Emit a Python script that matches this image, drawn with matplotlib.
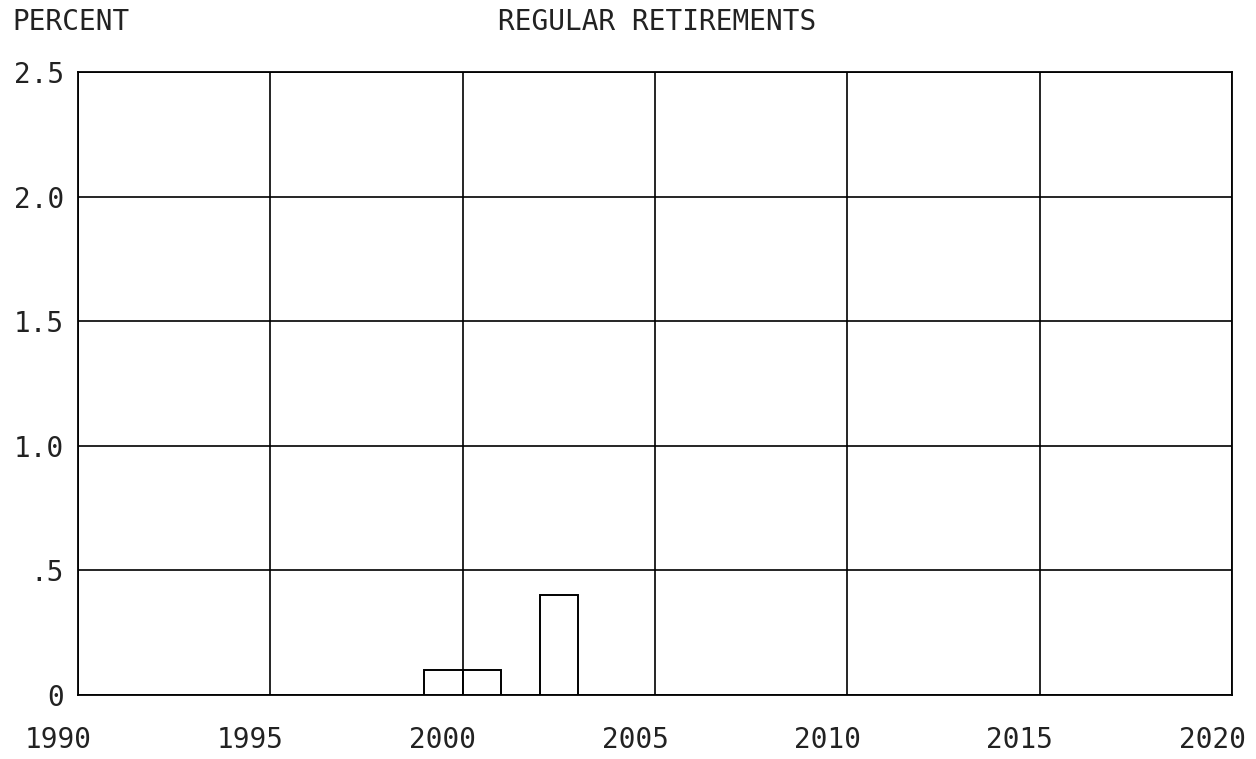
import matplotlib.pyplot as plt
import matplotlib.transforms as mtransforms

# data
years = [1999, 2000, 2002]
percent = [0.1, 0.1, 0.4]

xticks = [1990, 1995, 2000, 2005, 2010, 2015, 2020]
yticks = [0, 0.5, 1.0, 1.5, 2.0, 2.5]
ylabels = ["0", ".5", "1.0", "1.5", "2.0", "2.5"]

plt.rcParams['font.family'] = ['DejaVu Sans Mono']

fig = plt.figure(figsize=(12.56, 7.59), dpi=100)
ax = fig.add_axes([0.0621, 0.0843, 0.9188, 0.8208])

ax.bar(years, percent, width=1.0, align='edge', facecolor='white',
       edgecolor='black', linewidth=1.4, zorder=3)

ax.set_xlim(1990, 2020)
ax.set_ylim(0, 2.5)
ax.set_xticks(xticks)
ax.set_xticklabels([str(x) for x in xticks])
ax.set_yticks(yticks)
ax.set_yticklabels(ylabels)
ax.grid(True, color='black', linewidth=1.2, zorder=1)
ax.set_axisbelow(True)
for s in ax.spines.values():
    s.set_linewidth(1.3)
ax.tick_params(length=0, labelsize=20, colors='#222222')
ax.tick_params(axis='x', pad=22)
ax.tick_params(axis='y', pad=10)

# x labels sit a bit to the left of their gridline
offset = mtransforms.ScaledTranslation(-0.2, 0, fig.dpi_scale_trans)
for lbl in ax.get_xticklabels():
    lbl.set_transform(lbl.get_transform() + offset)

fig.text(12 / 1256, 1 - 22 / 759, "PERCENT", fontsize=20, ha='left',
         va='center', color='#222222')
fig.text(657 / 1256, 1 - 22 / 759, "REGULAR RETIREMENTS", fontsize=20,
         ha='center', va='center', color='#222222')

fig.savefig("out.png", dpi=100)
